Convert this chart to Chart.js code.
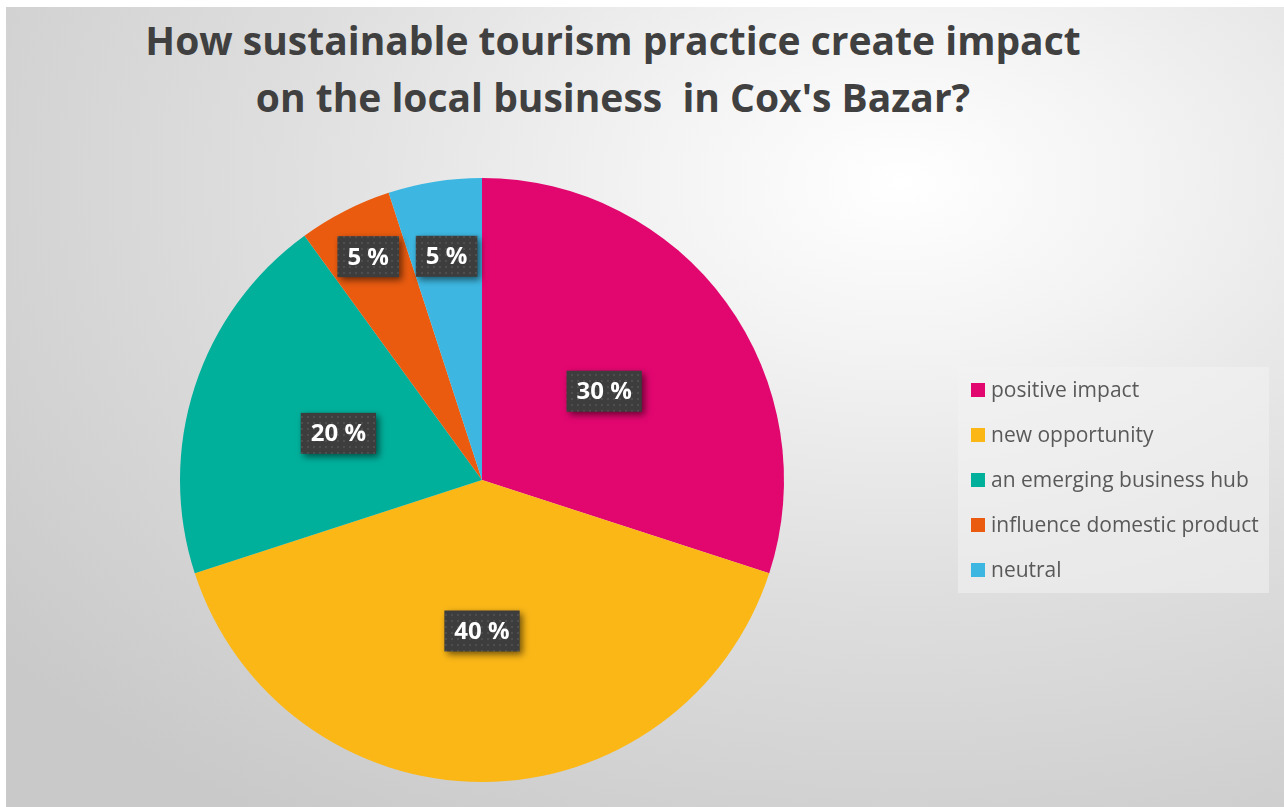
<!DOCTYPE html>
<html>
<head>
<meta charset="utf-8">
<title>Sustainable tourism impact</title>
<script src="https://cdn.jsdelivr.net/npm/chart.js@4.4.1/dist/chart.umd.min.js"></script>
<style>
    html, body { margin: 0; padding: 0; background: #fff; }
    body { width: 1284px; height: 807px; position: relative; overflow: hidden; font-family: "Open Sans", sans-serif; }
    .panel {
        position: absolute; left: 6px; top: 7px; width: 1278px; height: 800px;
        background: radial-gradient(ellipse 90% 95% at 70% 22%, #ffffff 0%, #f3f3f3 22%, #dedede 55%, #c9c9c9 100%);
    }
    .title {
        position: absolute; left: 0; top: 4px; width: 1214px; text-align: center;
        font-weight: 700; font-size: 39px; line-height: 57px; color: #404040;
    }
    canvas { position: absolute; left: 0; top: 0; }
    .legend {
        position: absolute; left: 952px; top: 360px; width: 311px; height: 226px;
        background: rgba(242, 242, 242, 0.55);
    }
    .legend div { position: absolute; left: 13px; height: 26px; font-size: 21px; line-height: 26px; color: #595959; white-space: nowrap; }
    .legend span { display: inline-block; width: 14px; height: 14px; margin-right: 6px; vertical-align: 0px; }
</style>
</head>
<body>
<div class="panel">
    <div class="title">How sustainable tourism practice create impact<br>on the local business&nbsp; in Cox's Bazar?</div>
    <canvas id="pie" width="1278" height="800"></canvas>
    <div class="legend" id="legend"></div>
</div>
<script>
const categories = ['positive impact', 'new opportunity', 'an emerging business hub', 'influence domestic product', 'neutral'];
const shares = [30, 40, 20, 5, 5];
const sliceColors = ['#E2066F', '#FBB716', '#00B09B', '#EA5B0F', '#3DB7E2'];

// where each value box sits along its slice, as a share of the radius
const labelRadius = [0.5, 0.5, 0.5, 0.83, 0.75];

// Legend
const legend = document.getElementById('legend');
categories.forEach((c, i) => {
    const row = document.createElement('div');
    row.style.top = (9 + i * 45) + 'px';
    row.innerHTML = `<span style="background:${sliceColors[i]}"></span>${c}`;
    legend.appendChild(row);
});

// dotted dark fill for the value boxes
function dotPattern(ctx) {
    const tile = document.createElement('canvas');
    tile.width = 6; tile.height = 6;
    const t = tile.getContext('2d');
    t.fillStyle = '#3d3d3d';
    t.fillRect(0, 0, 6, 6);
    t.fillStyle = '#4e4e4e';
    t.fillRect(1, 1, 2, 2);
    return ctx.createPattern(tile, 'repeat');
}

const valueBoxes = {
    id: 'valueBoxes',
    afterDatasetsDraw(chart) {
        const ctx = chart.ctx;
        const meta = chart.getDatasetMeta(0);
        const fill = dotPattern(ctx);
        ctx.save();
        ctx.font = 'bold 24px "Open Sans"';
        meta.data.forEach((arc, i) => {
            const p = arc.getProps(['x', 'y', 'startAngle', 'endAngle', 'outerRadius'], true);
            const mid = (p.startAngle + p.endAngle) / 2;
            const r = p.outerRadius * labelRadius[i];
            const cx = p.x + Math.cos(mid) * r;
            const cy = p.y + Math.sin(mid) * r;
            const text = shares[i] + ' %';
            const w = ctx.measureText(text).width + 20;
            const h = 41;
            ctx.save();
            ctx.shadowColor = 'rgba(0,0,0,0.55)';
            ctx.shadowBlur = 7;
            ctx.shadowOffsetX = 3;
            ctx.shadowOffsetY = 3;
            ctx.fillStyle = fill;
            ctx.fillRect(cx - w / 2, cy - h / 2, w, h);
            ctx.restore();
            ctx.fillStyle = '#ffffff';
            ctx.textAlign = 'center';
            ctx.textBaseline = 'middle';
            ctx.fillText(text, cx, cy + 1);
        });
        ctx.restore();
    }
};

new Chart(document.getElementById('pie'), {
    type: 'pie',
    data: {
        labels: categories,
        datasets: [{
            data: shares,
            backgroundColor: sliceColors,
            borderWidth: 0
        }]
    },
    options: {
        responsive: false,
        animation: false,
        layout: { padding: { left: 174, top: 171, right: 500, bottom: 25 } },
        plugins: {
            legend: { display: false },
            tooltip: { enabled: false }
        }
    },
    plugins: [valueBoxes]
});
</script>
</body>
</html>
